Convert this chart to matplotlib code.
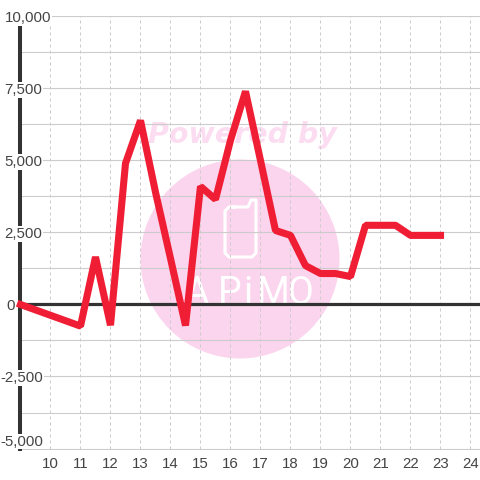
import matplotlib
matplotlib.use("Agg")
import matplotlib.pyplot as plt
from matplotlib.lines import Line2D
from matplotlib.patches import Circle
from matplotlib.ticker import MultipleLocator

hours = [9, 11, 11.5, 12, 12.5, 13, 13.5, 14, 14.5, 15, 15.5, 16, 16.5, 17, 17.5,
         18, 18.5, 19, 19.5, 20, 20.5, 21, 21.5, 22, 22.5, 23]
values = [0, -750, 1650, -720, 4900, 6390, 3900, 1600, -730, 4100, 3650, 5700, 7400,
          5000, 2570, 2400, 1350, 1075, 1075, 970, 2750, 2750, 2750, 2400, 2400, 2400]
x_ticks = list(range(10, 25))
y_labels = {10000: "10,000", 7500: "7,500", 5000: "5,000", 2500: "2,500", 0: "0",
            -2500: "-2,500", -5000: "-5,000"}

plt.rcParams["font.family"] = ["Liberation Sans", "DejaVu Sans"]
W = 480
fig = plt.figure(figsize=(4.8, 4.8), dpi=100, facecolor="white")
left, right, top, bottom = 22, 480, 16.5, 448.5
ax = fig.add_axes([left / W, 1 - bottom / W, (right - left) / W, (bottom - top) / W])
ax.patch.set_visible(False)
ax.set_xlim(10 - (50.5 - left) / 30, 10 + (right - 50.5) / 30)
ax.set_ylim(-5000, 10000)


def fp(x, y):
    return x / W, 1 - y / W


# background watermark
pink = "#fbd5ee"
fig.add_artist(Circle(fp(240, 259), 99.5 / W, transform=fig.transFigure, fc=pink, ec="none", zorder=-2))
fig.text(*fp(242, 135), "Powered by", color="#fcdcf1", fontsize=20.5, fontweight="bold", fontstyle="italic",
         family="DejaVu Sans", ha="center", va="center", zorder=-1)
phone = [(234, 207), (248, 207), (251, 200), (256, 200), (256, 253), (252, 257), (229, 257), (225, 253),
         (225, 211), (229, 207), (234, 207)]
fig.add_artist(Line2D([fp(*p)[0] for p in phone], [fp(*p)[1] for p in phone], transform=fig.transFigure,
                      color="white", lw=2.2, solid_joinstyle="round", zorder=-1))
for ch, cx in zip("APiMO", [197, 230, 248, 273, 301]):
    fig.text(*fp(cx, 304), ch, color="white", fontsize=27, family="Roboto",
             ha="center", va="baseline", zorder=-1)

# axes furniture
ax.set_xticks(x_ticks)
ax.set_yticks(list(y_labels.keys()))
ax.set_yticklabels(list(y_labels.values()))
ax.yaxis.set_minor_locator(MultipleLocator(1250))
ax.set_axisbelow("line")
ax.grid(True, which="major", axis="y", color="#cccccc", lw=0.8)
ax.grid(True, which="minor", axis="y", color="#cccccc", lw=0.8)
ax.grid(True, which="major", axis="x", color="#cccccc", lw=0.72, ls=(0, (3, 3)))

for s in ("top", "right"):
    ax.spines[s].set_visible(False)
ax.spines["bottom"].set_color("#cccccc")
ax.spines["bottom"].set_linewidth(0.72)
ax.spines["left"].set_position(("outward", 1.1))
ax.spines["left"].set_color("#333333")
ax.spines["left"].set_linewidth(2.9)
ax.spines["left"].set_zorder(1.4)

ax.tick_params(axis="both", which="both", length=0)
ax.tick_params(axis="x", labelsize=10.8, labelcolor="#444444", pad=6)
ax.tick_params(axis="y", labelsize=10.8, labelcolor="#444444", pad=11.5)
for lab in ax.get_yticklabels():
    t = lab.get_text()
    lab.set_ha("left")
    lab.set_bbox(dict(fc="white", ec="none", pad=0.6))
    if t == "-5,000":
        lab.set_va("bottom")
    if t.startswith("-"):
        lab.set_x(-4 / (right - left))
    if t == "0":
        lab.set_x(2 / (right - left))

ax.axhline(0, color="#333333", lw=2.3, zorder=1.6)
ax.plot(hours, values, color="#ef1e35", lw=5.1, solid_joinstyle="bevel", solid_capstyle="projecting",
        zorder=3, clip_on=False)

fig.savefig("out.png", dpi=100)
